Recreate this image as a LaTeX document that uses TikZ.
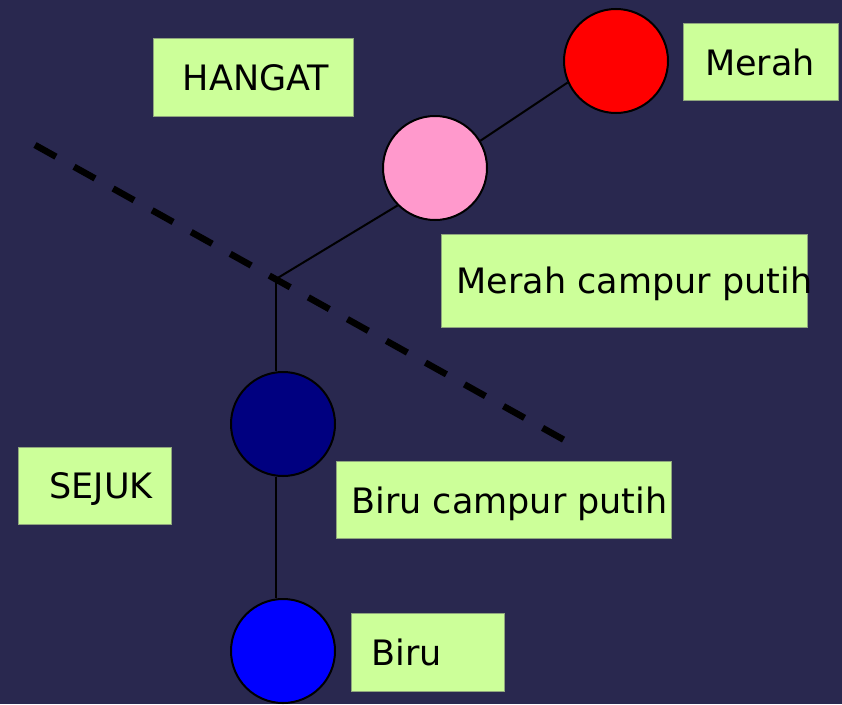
\documentclass[tikz,border=0pt]{standalone}
\usepackage{fontspec}
\setmainfont{DejaVu Sans}
\definecolor{bgnavy}{HTML}{29284F}
\definecolor{tagfill}{HTML}{CCFF99}
\definecolor{tagedge}{HTML}{8FA67E}
\definecolor{pinkball}{HTML}{FF99CC}
\definecolor{navyball}{HTML}{000080}
\definecolor{blueball}{HTML}{0000FF}
\definecolor{redball}{HTML}{FF0000}
\pgfdeclarelayer{canvas}
\pgfdeclarelayer{links}
\pgfsetlayers{canvas,links,main}
\begin{document}
\begin{tikzpicture}[x=1pt,y=-1pt,
  ball/.style={circle, draw=black, line width=2pt, minimum size=104pt, inner sep=0pt},
  tag/.style={rectangle, fill=tagfill, draw=tagedge, line width=0.8pt, anchor=north west, inner sep=0pt},
  lbl/.style={anchor=base, inner sep=0pt, font=\fontsize{35}{40}\selectfont, text=black},
  link/.style={draw=black, line width=2pt},
  divider/.style={draw=black, line width=6.5pt, dash pattern=on 24pt off 20.7pt}]
  \useasboundingbox (0,0) rectangle (842,704);

  % colour balls
  \coordinate (fork) at (276,279);
  \node[ball, fill=redball]  (red)  at (616,61)  {};
  \node[ball, fill=pinkball] (pink) at (435,168) {};
  \node[ball, fill=navyball] (navy) at (283,424) {};
  \node[ball, fill=blueball] (blue) at (283,651) {};

  % canvas and the warm / cool divider
  \begin{pgfonlayer}{canvas}
    \fill[bgnavy] (0,0) rectangle (842,704);
    \coordinate (dashA) at (35,145);
    \coordinate (dashB) at (566,441);
    \draw[divider] (dashA) -- (dashB);
  \end{pgfonlayer}

  % connectors, kept behind the balls
  \begin{pgfonlayer}{links}
    \draw[link] (fork) -- (pink.225);
    \draw[link] (pink.31) -- (red.204);
    \draw[link] (fork) -- (fork |- navy.north);
    \draw[link] (navy.south -| fork) -- (blue.north -| fork);
  \end{pgfonlayer}

  % label boxes
  \node[tag, minimum width=200pt, minimum height=78pt] (hangatbox) at (153,38)  {};
  \node[tag, minimum width=155pt, minimum height=77pt] (merahbox)  at (683,23)  {};
  \node[tag, minimum width=366pt, minimum height=93pt] (mcpbox)    at (441,234) {};
  \node[tag, minimum width=153pt, minimum height=77pt] (sejukbox)  at (18,447)  {};
  \node[tag, minimum width=335pt, minimum height=77pt] (bcpbox)    at (336,461) {};
  \node[tag, minimum width=153pt, minimum height=78pt] (birubox)   at (351,613) {};

  % labels
  \node[lbl] (hangat) at (256,90)    {HANGAT};
  \node[lbl] (merah)  at (760,75)    {Merah};
  \node[lbl] (mcp)    at (634.5,293) {Merah campur putih};
  \node[lbl] (sejuk)  at (101,498)   {SEJUK};
  \node[lbl] (bcp)    at (509.5,513) {Biru campur putih};
  \node[lbl] (biru)   at (407,665)   {Biru};
\end{tikzpicture}
\end{document}
